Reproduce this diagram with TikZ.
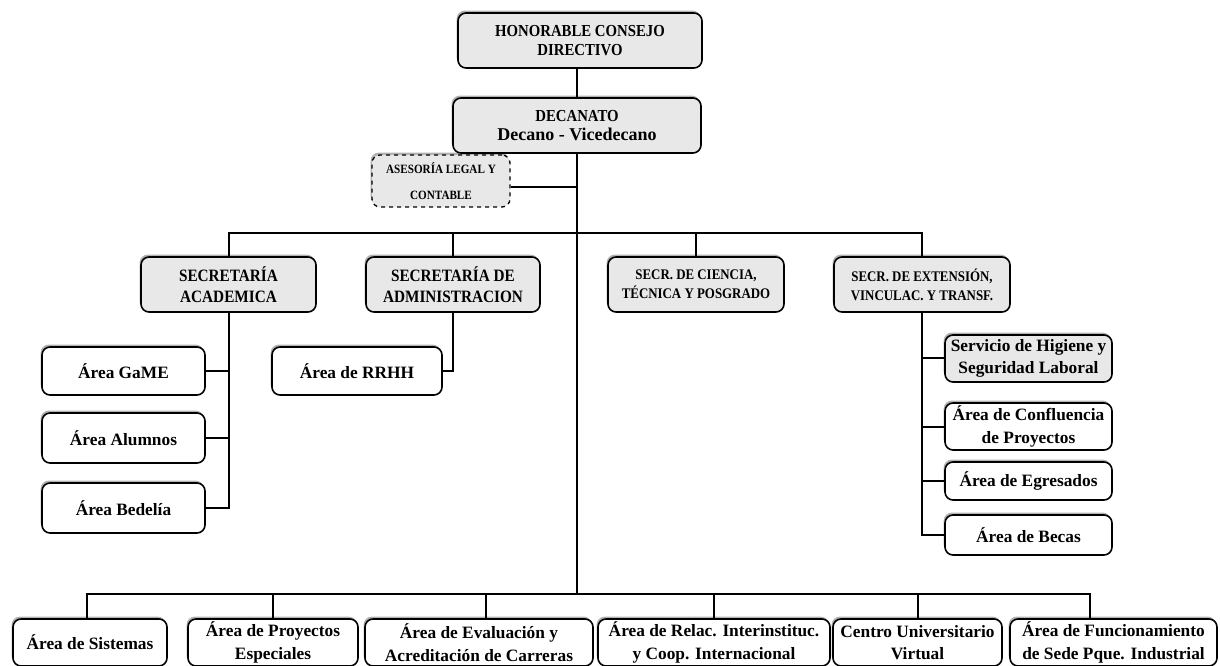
\documentclass[tikz,border=0pt]{standalone}
\usepackage{fontspec}
\setmainfont{Liberation Serif}
\newfontfamily\capf{Liberation Serif}[FakeStretch=0.88]
\usetikzlibrary{shadows}
\definecolor{boxgray}{HTML}{E8E8E8}
\newcommand\bx[7]{\node[#6, minimum width={(#4-#2)*0.75pt}, minimum height={(#5-#3)*0.75pt}] (#1) at ({(#2+#4)/2},{(#3+#5)/2}) {#7};}
\tikzset{
  base/.style={draw=black, line width=1.2pt, rounded corners=6pt, inner sep=0pt, align=center,
    drop shadow={shadow xshift=-1pt, shadow yshift=1.8pt, opacity=0.3, fill=black}},
  capbox/.style={base, fill=boxgray, font=\capf\bfseries\fontsize{12.6}{14.5}\selectfont},
  secbox/.style={base, fill=boxgray, font=\capf\bfseries\fontsize{13}{16}\selectfont},
  smallcap/.style={base, fill=boxgray, dashed, line width=1pt, font=\capf\bfseries\fontsize{9.5}{19.5}\selectfont},
  lowbox/.style={base, fill=white, font=\bfseries\fontsize{13}{17}\selectfont},
  graybox/.style={lowbox, fill=boxgray},
  conn/.style={draw=black, line width=1.5pt},
}
\begin{document}
\begin{tikzpicture}[x=0.75pt, y=-0.75pt]
\useasboundingbox[fill=white] (0,0) rectangle (1220,666);
% top
\bx{hcd}{458}{13}{702}{68}{capbox}{HONORABLE CONSEJO\\DIRECTIVO}
\bx{dec}{453}{98}{701}{153}{capbox}{DECANATO\\\bfseries\rmfamily\fontsize{13.5}{15}\selectfont Decano - Vicedecano}
\bx{ase}{372}{155}{510}{207}{smallcap}{ASESORÍA LEGAL Y\\CONTABLE}
% secretarias
\bx{acad}{141}{257}{316}{312}{secbox}{SECRETARÍA\\ACADEMICA}
\bx{adm}{366}{257}{540}{312}{secbox}{SECRETARÍA DE\\ADMINISTRACION}
\bx{cie}{608}{257}{784}{312}{capbox}{\fontsize{11}{14.5}\selectfont SECR. DE CIENCIA,\\\fontsize{11}{14.5}\selectfont TÉCNICA Y POSGRADO}
\bx{ext}{834}{257}{1010}{312}{capbox}{\fontsize{11}{14.5}\selectfont SECR. DE EXTENSIÓN,\\\fontsize{11}{14.5}\selectfont VINCULAC. Y TRANSF.}
% academica children
\bx{game}{42}{347}{205}{395}{lowbox}{Área GaME}
\bx{alum}{42}{413}{205}{463}{lowbox}{Área Alumnos}
\bx{bed}{42}{483}{205}{533}{lowbox}{Área Bedelía}
\bx{rrhh}{272}{347}{442}{395}{lowbox}{Área de RRHH}
% extension children
\bx{serv}{945}{335}{1112}{382}{graybox}{Servicio de Higiene y\\Seguridad Laboral}
\bx{conf}{945}{403}{1112}{450}{lowbox}{Área de Confluencia\\de Proyectos}
\bx{egr}{945}{462}{1112}{500}{lowbox}{Área de Egresados}
\bx{bec}{945}{515}{1112}{555}{lowbox}{Área de Becas}
% bottom row
\bx{sis}{13}{619}{167}{666}{lowbox}{Área de Sistemas}
\bx{pro}{188}{619}{358}{666}{lowbox}{Área de Proyectos\\Especiales}
\bx{eva}{365}{619}{593}{666}{lowbox}{Área de Evaluación y\\Acreditación de Carreras}
\bx{rel}{598}{619}{830}{666}{lowbox}{Área de Relac. Interinstituc.\\y Coop. Internacional}
\bx{cen}{833}{619}{1002}{666}{lowbox}{Centro Universitario\\Virtual}
\bx{fun}{1010}{619}{1217}{666}{lowbox}{Área de Funcionamiento\\de Sede Pque. Industrial}
% coordinates
\coordinate (tb) at (577,233);
\coordinate (bb) at (577,594);
% connectors
\draw[conn] (hcd.south -| dec.south) -- (dec.north);
\draw[conn] (dec.south) -- (bb);
\draw[conn] ([yshift=-4.5pt]ase.east) -- ([yshift=-4.5pt]ase.east -| dec.south);
\draw[conn] (acad.north) |- (tb) -| (ext.north);
\draw[conn] (adm.north) -- (adm.north |- tb);
\draw[conn] (cie.north) -- (cie.north |- tb);
\draw[conn] (acad.south) |- (bed.east);
\draw[conn] (game.east) -- (game.east -| acad.south);
\draw[conn] (alum.east) -- (alum.east -| acad.south);
\draw[conn] (adm.south) |- (rrhh.east);
\draw[conn] (ext.south) |- (bec.west);
\draw[conn] (serv.west) -- (serv.west -| ext.south);
\draw[conn] (conf.west) -- (conf.west -| ext.south);
\draw[conn] (egr.west) -- (egr.west -| ext.south);
\draw[conn] ([xshift=-2pt]sis.north) |- (bb) -| ([xshift=-17.5pt]fun.north);
\draw[conn] (pro.north) -- (pro.north |- bb);
\draw[conn] ([xshift=5pt]eva.north) -- ([xshift=5pt]eva.north |- bb);
\draw[conn] (rel.north) -- (rel.north |- bb);
\draw[conn] (cen.north) -- (cen.north |- bb);
\end{tikzpicture}
\end{document}
